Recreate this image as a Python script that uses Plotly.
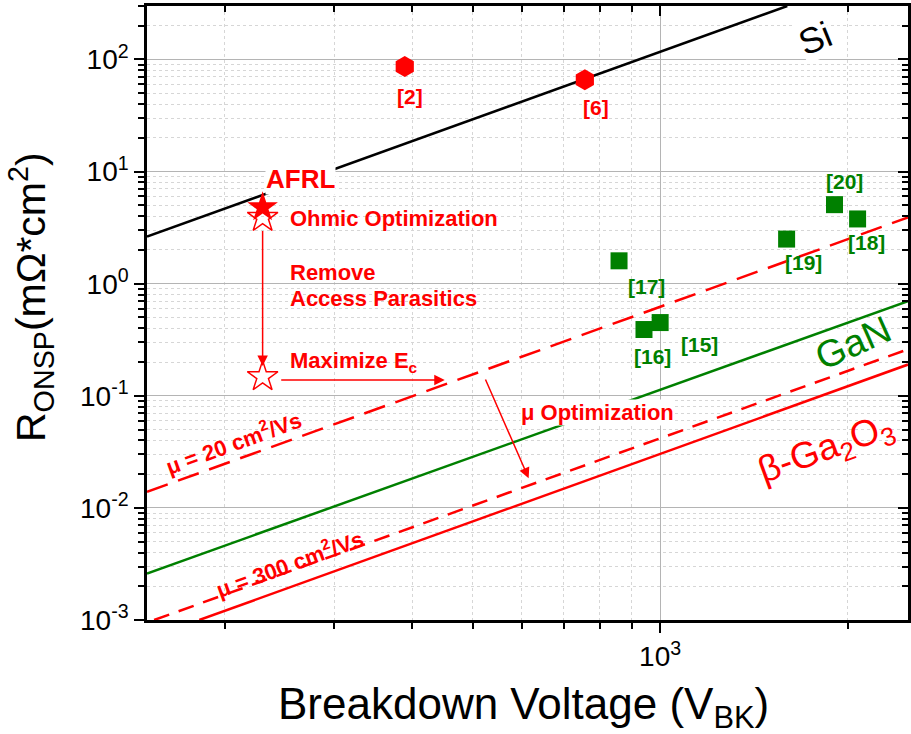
import numpy as np
import plotly.graph_objects as go

# ---- data -----------------------------------------------------------------
# Theoretical unipolar limits (breakdown voltage V, specific on-resistance mOhm*cm^2)
si_v, si_r = [150, 1600], [2.63, 300]
gan_v, gan_r = [150, 2500], [0.0026, 0.70]
ga2o3_v, ga2o3_r = [182, 2500], [0.001, 0.19]
mu300_v, mu300_r = [154, 2500], [0.001, 0.26]
mu20_v, mu20_r = [150, 2500], [0.0139, 3.9]

# Reported devices
red_refs = ["[2]", "[6]"]
red_v = [389, 757]
red_r = [86.6, 66]

green_refs = ["[17]", "[16]", "[15]", "[19]", "[20]", "[18]"]
green_v = [859, 942, 1000, 1596, 1905, 2075]
green_r = [1.6, 0.39, 0.45, 2.5, 5.07, 3.78]

afrl_v, afrl_r = [230], [4.8]
step_v = [230, 230]
step_r = [3.9, 0.148]

x_major = [1000]
x_major_text = ["10<sup>3</sup>"]
x_minor = [200, 300, 400, 500, 600, 700, 800, 900, 2000]
y_major = [1e-3, 1e-2, 1e-1, 1e0, 1e1, 1e2]
y_major_text = ["10<sup>-3</sup>", "10<sup>-2</sup>", "10<sup>-1</sup>",
                "10<sup>0</sup>", "10<sup>1</sup>", "10<sup>2</sup>"]
y_minor = [m * 10.0 ** e for e in range(-3, 3) for m in range(2, 10)]

X_RANGE = [np.log10(150), np.log10(2500)]
Y_RANGE = [-3, np.log10(300)]

RED = "#ff0000"
GREEN = "#008000"
FONT = "Liberation Sans, Arial, sans-serif"

W, H = 911, 734
ML, MR, MT, MB = 147, 3, 6, 114
PW, PH = W - ML - MR, H - MT - MB


def px(x):
    return (x - ML) / PW


def py(y):
    return (H - MB - y) / PH


fig = go.Figure()

line_specs = [
    (si_v, si_r, "black", "solid"),
    (gan_v, gan_r, GREEN, "solid"),
    (ga2o3_v, ga2o3_r, RED, "solid"),
    (mu300_v, mu300_r, RED, "16px,10px"),
    (mu20_v, mu20_r, RED, "22px,11px"),
]
for xv, yv, col, dash in line_specs:
    fig.add_trace(go.Scatter(x=xv, y=yv, mode="lines",
                             line=dict(color=col, width=2.5, dash=dash),
                             showlegend=False, hoverinfo="skip"))

fig.add_trace(go.Scatter(x=red_v, y=red_r, mode="markers",
                         marker=dict(symbol="hexagon", size=21, color=RED),
                         showlegend=False))
fig.add_trace(go.Scatter(x=green_v, y=green_r, mode="markers",
                         marker=dict(symbol="square", size=17, color=GREEN),
                         showlegend=False))
fig.add_trace(go.Scatter(x=afrl_v, y=afrl_r, mode="markers",
                         marker=dict(symbol="star", size=23, color=RED),
                         showlegend=False))
fig.add_trace(go.Scatter(x=step_v, y=step_r, mode="markers",
                         marker=dict(symbol="star-open", size=23, color=RED,
                                     line=dict(width=1.5, color=RED)),
                         showlegend=False))
# carrier trace for the mirrored top/right axes
fig.add_trace(go.Scatter(x=[1000], y=[1], xaxis="x2", yaxis="y2", mode="markers",
                         marker=dict(opacity=0), showlegend=False, hoverinfo="skip"))

ann = []

# reference labels next to markers
red_shift = [(5, -30), (11, -28)]
for t, xv, yv, (dx, dy) in zip(red_refs, red_v, red_r, red_shift):
    ann.append(dict(x=np.log10(xv), y=np.log10(yv), text=t, showarrow=False,
                    xshift=dx, yshift=dy, font=dict(size=21, color=RED, family=FONT, weight="bold")))
green_shift = [(27, -26), (9, -27), (39, -22), (17, -23), (10, 23), (9, -24)]
for t, xv, yv, (dx, dy) in zip(green_refs, green_v, green_r, green_shift):
    ann.append(dict(x=np.log10(xv), y=np.log10(yv), text=t, showarrow=False,
                    xshift=dx, yshift=dy, font=dict(size=21, color=GREEN, family=FONT, weight="bold")))

# AFRL label
ann.append(dict(x=np.log10(afrl_v[0]), y=np.log10(afrl_r[0]), text="AFRL", showarrow=False,
                xshift=38, yshift=28, bgcolor="white", borderpad=0,
                font=dict(size=26, color=RED, family=FONT, weight="bold")))


def text_px(x, y, text, size, color, xanchor="center", angle=0, bold=True, bg=None):
    d = dict(xref="paper", yref="paper", x=px(x), y=py(y), text=text, showarrow=False,
             xanchor=xanchor, yanchor="middle", textangle=angle, borderpad=0,
             font=dict(size=size, color=color, family=FONT,
                       weight="bold" if bold else "normal"))
    if bg:
        d["bgcolor"] = bg
    ann.append(d)


text_px(289, 218, "Ohmic Optimization", 22, RED, "left")
text_px(289, 272, "Remove", 22, RED, "left")
text_px(289, 298, "Access Parasitics", 22, RED, "left")
text_px(289, 362, "Maximize E<sub>c</sub>", 22, RED, "left")
text_px(520, 412, "\u03bc Optimization", 22, RED, "left", bg="white")
text_px(233, 442, "\u03bc = 20 cm<sup>2</sup>/Vs", 22, RED, angle=-20)
text_px(289, 563, "\u03bc = 300 cm<sup>2</sup>/Vs", 22, RED, angle=-20)
text_px(815, 38, "Si", 36, "black", angle=-22, bold=False, bg="white")
text_px(853, 343, "GaN", 38, GREEN, angle=-24, bold=False)
text_px(826, 450, "\u03b2-Ga<sub>2</sub>O<sub>3</sub>", 37, RED, angle=-20, bold=False)

# step arrows
arrow_specs = [
    ((230, 3.05), (230, 0.184)),
    ((245, 0.138), (451, 0.138)),
    ((523, 0.144), (615, 0.0184)),
]
for (tx, ty), (hx, hy) in arrow_specs:
    ann.append(dict(x=np.log10(hx), y=np.log10(hy), ax=np.log10(tx), ay=np.log10(ty),
                    xref="x", yref="y", axref="x", ayref="y", text="",
                    showarrow=True, arrowhead=2, arrowsize=1.4, arrowwidth=1.5,
                    arrowcolor=RED, standoff=0, startstandoff=0))

# axis titles
ann.append(dict(xref="paper", yref="paper", x=px(523), y=py(707), showarrow=False,
                text="Breakdown Voltage (V<sub>BK</sub>)", xanchor="center", yanchor="middle",
                font=dict(size=44, color="black", family=FONT)))
ann.append(dict(xref="paper", yref="paper", x=px(31), y=py(297), showarrow=False,
                text="R<sub>ONSP</sub>(m\u03a9*cm<sup>2</sup>)", textangle=-90,
                xanchor="center", yanchor="middle",
                font=dict(size=41, color="black", family=FONT)))

grid_major = "#b4b4b4"
grid_minor = "#d6d6d6"

fig.update_layout(
    width=W, height=H,
    margin=dict(l=ML, r=MR, t=MT, b=MB),
    paper_bgcolor="white", plot_bgcolor="white",
    font=dict(family=FONT, color="black"),
    annotations=ann,
    xaxis=dict(type="log", range=X_RANGE, showline=True, linecolor="black", linewidth=2.5,
               ticks="outside", ticklen=10, tickwidth=2, tickcolor="black",
               tickmode="array", tickvals=x_major, ticktext=x_major_text,
               tickfont=dict(size=28, family=FONT, color="black"),
               showgrid=True, gridcolor=grid_major, gridwidth=1, zeroline=False,
               minor=dict(tickmode="array", tickvals=x_minor, ticks="outside", ticklen=6,
                          tickwidth=2, tickcolor="black", showgrid=True,
                          gridcolor=grid_minor, gridwidth=1, griddash="dot")),
    yaxis=dict(type="log", range=Y_RANGE, showline=True, linecolor="black", linewidth=2.5,
               ticks="outside", ticklen=10, tickwidth=2, tickcolor="black",
               tickmode="array", tickvals=y_major, ticktext=y_major_text,
               tickfont=dict(size=28, family=FONT, color="black"),
               showgrid=True, gridcolor=grid_major, gridwidth=1, zeroline=False,
               minor=dict(tickmode="array", tickvals=y_minor, ticks="outside", ticklen=6,
                          tickwidth=2, tickcolor="black", showgrid=True,
                          gridcolor=grid_minor, gridwidth=1, griddash="dot")),
    xaxis2=dict(type="log", range=X_RANGE, overlaying="x", side="top", anchor="y2",
                showline=True, linecolor="black", linewidth=2.5,
                ticks="inside", ticklen=10, tickwidth=2, tickcolor="black",
                tickmode="array", tickvals=x_major, showticklabels=False,
                showgrid=False, zeroline=False,
                minor=dict(tickmode="array", tickvals=x_minor, ticks="inside", ticklen=6,
                           tickwidth=2, tickcolor="black", showgrid=False)),
    yaxis2=dict(type="log", range=Y_RANGE, overlaying="y", side="right", anchor="x2",
                showline=True, linecolor="black", linewidth=2.5,
                ticks="inside", ticklen=10, tickwidth=2, tickcolor="black",
                tickmode="array", tickvals=y_major, showticklabels=False,
                showgrid=False, zeroline=False,
                minor=dict(tickmode="array", tickvals=y_minor, ticks="inside", ticklen=6,
                           tickwidth=2, tickcolor="black", showgrid=False)),
)

fig.write_html("out.html")
